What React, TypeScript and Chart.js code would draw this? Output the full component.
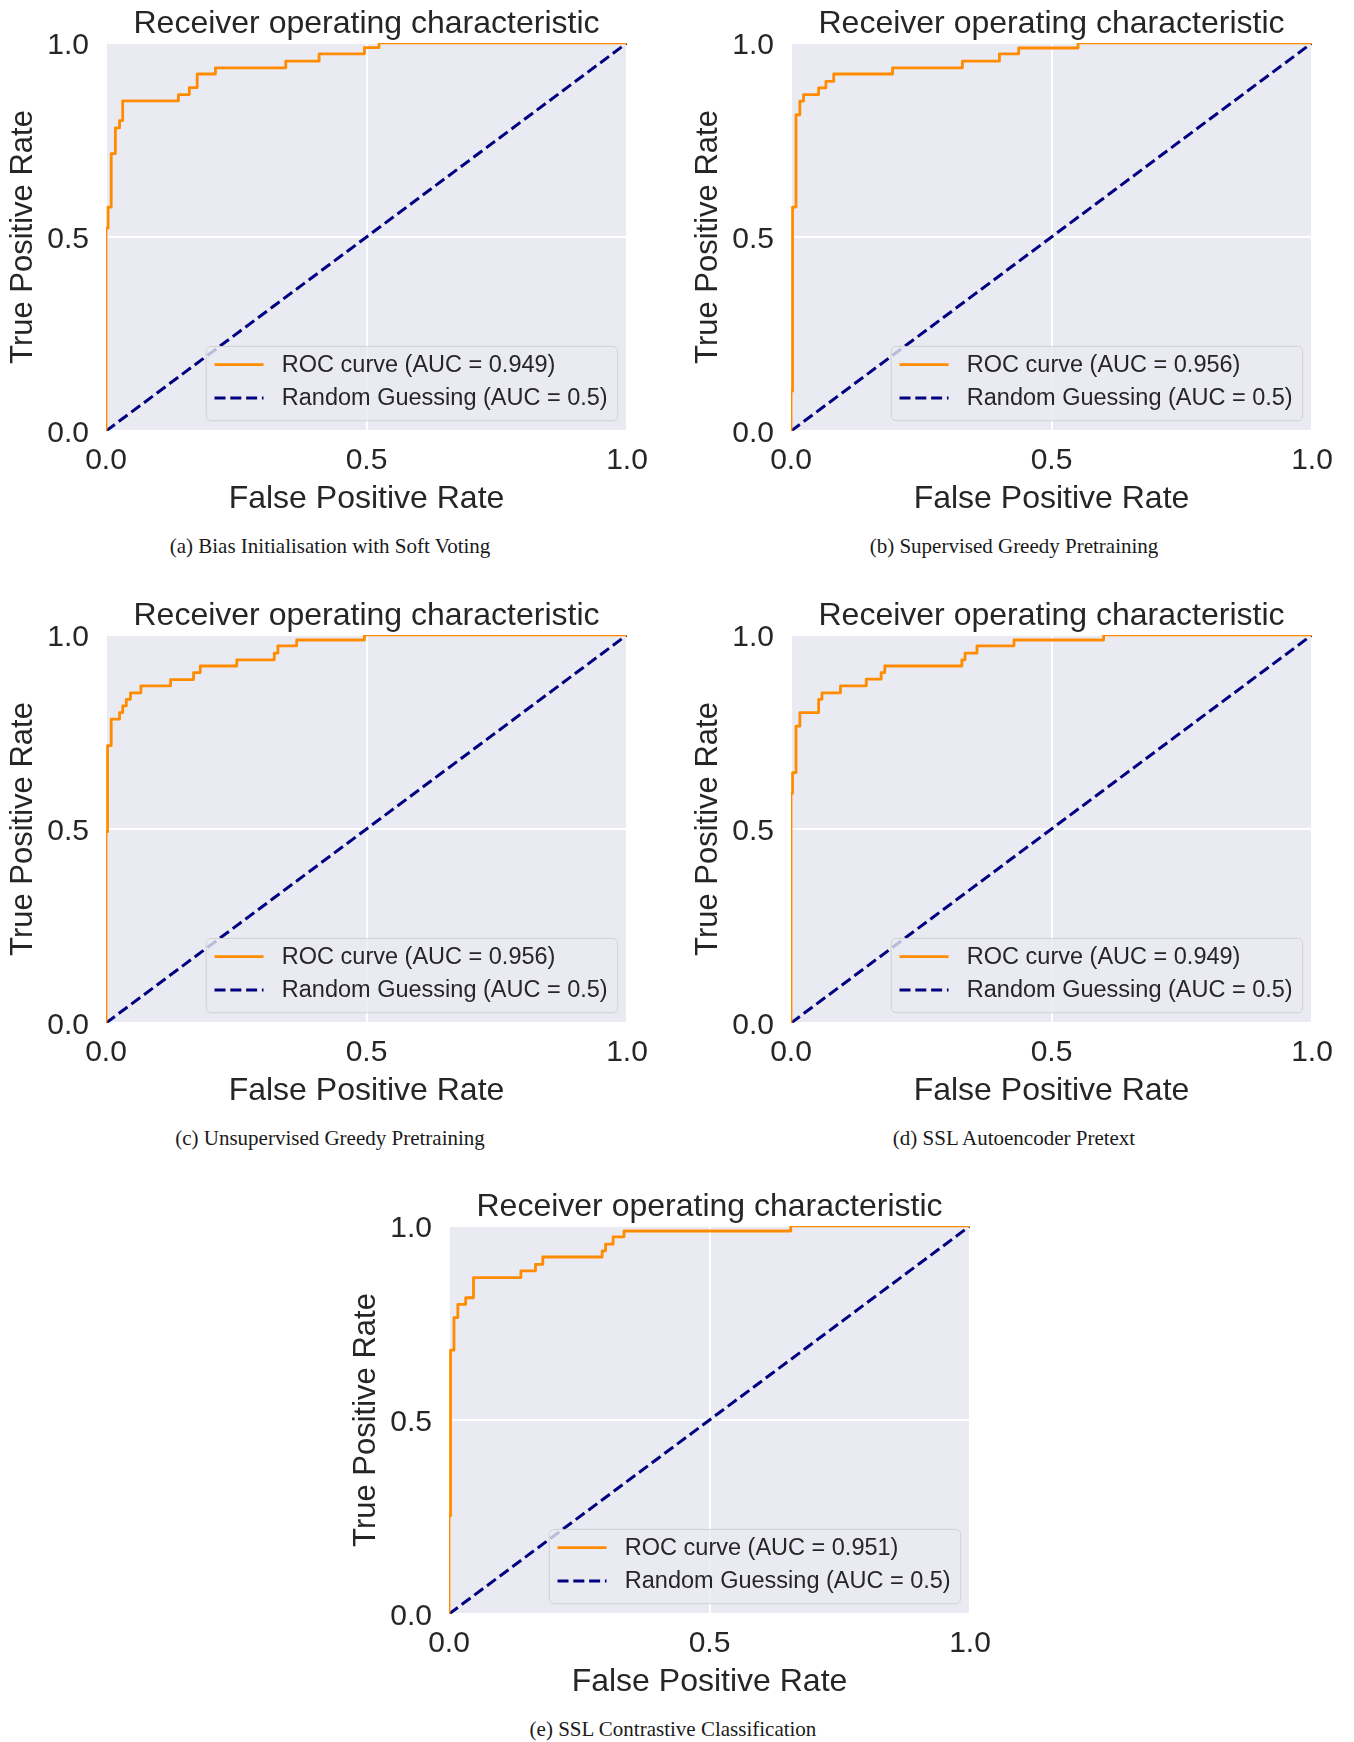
import React, { useEffect, useRef } from "react";
import { Chart, registerables } from "chart.js";

Chart.register(...registerables);

// ---------- text ----------
const TITLE = "Receiver operating characteristic";
const X_LABEL = "False Positive Rate";
const Y_LABEL = "True Positive Rate";
const TICK_VALUES = [0, 0.5, 1];
const TICK_LABELS = ["0.0", "0.5", "1.0"];
const GUESS_LABEL = "Random Guessing (AUC = 0.5)";
const GUESS_FPR = [0, 1];
const GUESS_TPR = [0, 1];

// ---------- ROC data: at each FPR the curve climbs to the matching TPR ----------
const FPR_A = [0, 0.004, 0.010, 0.018, 0.026, 0.032, 0.139, 0.160, 0.175, 0.210, 0.345, 0.409, 0.496, 0.524];
const TPR_A = [0.523, 0.577, 0.715, 0.781, 0.800, 0.851, 0.867, 0.885, 0.920, 0.936, 0.953, 0.972, 0.988, 1.0];
const AUC_A = "0.949";
const CAPTION_A = "(a) Bias Initialisation with Soft Voting";

const FPR_B = [0, 0.003, 0.0096, 0.017, 0.024, 0.053, 0.067, 0.082, 0.195, 0.329, 0.400, 0.437, 0.551];
const TPR_B = [0.103, 0.577, 0.815, 0.850, 0.867, 0.884, 0.901, 0.920, 0.936, 0.953, 0.972, 0.987, 1.0];
const AUC_B = "0.956";
const CAPTION_B = "(b) Supervised Greedy Pretraining";

const FPR_C = [0, 0.003, 0.010, 0.026, 0.032, 0.039, 0.047, 0.067, 0.124, 0.168, 0.181, 0.251, 0.323, 0.330, 0.366, 0.496];
const TPR_C = [0.493, 0.715, 0.783, 0.800, 0.817, 0.834, 0.851, 0.869, 0.885, 0.903, 0.920, 0.936, 0.953, 0.972, 0.987, 1.0];
const AUC_C = "0.956";
const CAPTION_C = "(c) Unsupervised Greedy Pretraining";

const FPR_D = [0, 0.003, 0.0096, 0.017, 0.053, 0.0595, 0.095, 0.1445, 0.173, 0.180, 0.328, 0.334, 0.357, 0.428, 0.600];
const TPR_D = [0.592, 0.645, 0.765, 0.800, 0.834, 0.851, 0.869, 0.886, 0.903, 0.920, 0.936, 0.953, 0.972, 0.987, 1.0];
const AUC_D = "0.949";
const CAPTION_D = "(d) SSL Autoencoder Pretext";

const FPR_E = [0, 0.003, 0.0096, 0.017, 0.032, 0.047, 0.138, 0.166, 0.180, 0.294, 0.3005, 0.315, 0.336, 0.656];
const TPR_E = [0.253, 0.680, 0.764, 0.798, 0.815, 0.867, 0.884, 0.901, 0.920, 0.936, 0.953, 0.972, 0.987, 1.0];
const AUC_E = "0.951";
const CAPTION_E = "(e) SSL Contrastive Classification";

// ---------- style / layout ----------
const SANS = "'Liberation Sans', Arial, Helvetica, sans-serif";
const SERIF = "'Liberation Serif', 'Times New Roman', Times, serif";
const TEXT = "#262626";
const AXES_BG = "#EAEAF2";
const ORANGE = "#FF8C00";
const NAVY = "#000080";
const CANVAS_W = 680;
const CANVAS_H = 532;

const PANELS = [
  { fpr: FPR_A, tpr: TPR_A, auc: AUC_A, caption: CAPTION_A, left: 0, top: 0, capX: 330, capY: 545.5 },
  { fpr: FPR_B, tpr: TPR_B, auc: AUC_B, caption: CAPTION_B, left: 685, top: 0, capX: 1014, capY: 545.5 },
  { fpr: FPR_C, tpr: TPR_C, auc: AUC_C, caption: CAPTION_C, left: 0, top: 592, capX: 330, capY: 1137.5 },
  { fpr: FPR_D, tpr: TPR_D, auc: AUC_D, caption: CAPTION_D, left: 685, top: 592, capX: 1014, capY: 1137.5 },
  { fpr: FPR_E, tpr: TPR_E, auc: AUC_E, caption: CAPTION_E, left: 343, top: 1183, capX: 673, capY: 1728.5 },
];

function rocPoints(fpr: number[], tpr: number[]) {
  const pts: { x: number; y: number }[] = [{ x: 0, y: 0 }];
  let prevY = 0;
  for (let i = 0; i < fpr.length; i++) {
    pts.push({ x: fpr[i], y: prevY });
    pts.push({ x: fpr[i], y: tpr[i] });
    prevY = tpr[i];
  }
  pts.push({ x: 1, y: prevY });
  return pts;
}

const bgPlugin = {
  id: "axesBg",
  beforeDraw(chart: any) {
    const { ctx, chartArea: a } = chart;
    ctx.save();
    ctx.fillStyle = AXES_BG;
    ctx.fillRect(a.left, a.top, a.right - a.left, a.bottom - a.top);
    ctx.restore();
  },
};

const legendPlugin = {
  id: "rocLegend",
  afterDatasetsDraw(chart: any) {
    const { ctx, chartArea } = chart;
    const ds = chart.data.datasets;
    ctx.save();
    ctx.font = `23.5px ${SANS}`;
    const textW = Math.max(...ds.map((d: any) => ctx.measureText(d.label).width));
    const padL = 8.3, handleLen = 49, gap = 18.3, padR = 10;
    const w = padL + handleLen + gap + textW + padR;
    const h = 74.3;
    const right = chartArea.right - 9.3;
    const bottom = chartArea.bottom - 10.3;
    const left = right - w;
    const top = bottom - h;
    const r = 5;
    ctx.beginPath();
    ctx.moveTo(left + r, top);
    ctx.lineTo(right - r, top);
    ctx.arcTo(right, top, right, top + r, r);
    ctx.lineTo(right, bottom - r);
    ctx.arcTo(right, bottom, right - r, bottom, r);
    ctx.lineTo(left + r, bottom);
    ctx.arcTo(left, bottom, left, bottom - r, r);
    ctx.lineTo(left, top + r);
    ctx.arcTo(left, top, left + r, top, r);
    ctx.closePath();
    ctx.fillStyle = "rgba(234,234,242,0.8)";
    ctx.fill();
    ctx.strokeStyle = "rgba(204,204,204,0.8)";
    ctx.lineWidth = 1;
    ctx.stroke();
    ds.forEach((d: any, i: number) => {
      const y = top + 18.3 + i * 33.3;
      ctx.beginPath();
      ctx.setLineDash(d.borderDash || []);
      ctx.strokeStyle = d.borderColor;
      ctx.lineWidth = d.borderWidth;
      ctx.moveTo(left + padL, y);
      ctx.lineTo(left + padL + handleLen, y);
      ctx.stroke();
      ctx.setLineDash([]);
      ctx.fillStyle = TEXT;
      ctx.textBaseline = "middle";
      ctx.textAlign = "left";
      ctx.fillText(d.label, left + padL + handleLen + gap, y + 1);
    });
    ctx.restore();
  },
};

function axisTicks(scale: any) {
  scale.ticks = TICK_VALUES.map((v) => ({ value: v }));
}

function RocPanel(props: { fpr: number[]; tpr: number[]; auc: string; left: number; top: number }) {
  const ref = useRef<HTMLCanvasElement | null>(null);
  useEffect(() => {
    if (!ref.current) return;
    const chart = new Chart(ref.current, {
      type: "line",
      data: {
        datasets: [
          {
            label: `ROC curve (AUC = ${props.auc})`,
            data: rocPoints(props.fpr, props.tpr),
            borderColor: ORANGE,
            backgroundColor: ORANGE,
            borderWidth: 2.8,
            borderJoinStyle: "round",
            pointRadius: 0,
            tension: 0,
            fill: false,
            clip: 0,
          },
          {
            label: GUESS_LABEL,
            data: GUESS_FPR.map((x, i) => ({ x, y: GUESS_TPR[i] })),
            borderColor: NAVY,
            backgroundColor: NAVY,
            borderWidth: 3,
            borderDash: [11, 4.8],
            pointRadius: 0,
            tension: 0,
            fill: false,
            clip: 0,
          },
        ],
      } as any,
      options: {
        responsive: false,
        animation: false,
        devicePixelRatio: 1,
        layout: { padding: { left: 0, right: 53, top: 0, bottom: 0 } },
        plugins: {
          legend: { display: false },
          tooltip: { enabled: false },
          title: {
            display: true,
            text: TITLE,
            fullSize: false,
            color: TEXT,
            font: { family: SANS, size: 32, weight: "normal", lineHeight: 1.18 },
            padding: { top: 5.2, bottom: 0 },
          },
        },
        scales: {
          x: {
            type: "linear",
            min: 0,
            max: 1,
            afterBuildTicks: axisTicks,
            afterFit: (s: any) => {
              s.height = 101;
            },
            ticks: {
              callback: (_v: any, i: number) => TICK_LABELS[i],
              font: { family: SANS, size: 30 },
              color: TEXT,
              padding: 12,
              maxRotation: 0,
              autoSkip: false,
            },
            grid: { color: "#ffffff", lineWidth: 2, drawTicks: false },
            border: { display: false },
            title: {
              display: true,
              text: X_LABEL,
              color: TEXT,
              font: { family: SANS, size: 32, lineHeight: 1.2 },
              padding: { top: 0, bottom: 13.9 },
            },
          },
          y: {
            type: "linear",
            min: 0,
            max: 1,
            afterBuildTicks: axisTicks,
            afterFit: (s: any) => {
              s.width = 106;
            },
            ticks: {
              callback: (_v: any, i: number) => TICK_LABELS[i],
              font: { family: SANS, size: 30 },
              color: TEXT,
              padding: 17,
              labelOffset: 2.5,
              autoSkip: false,
            },
            grid: { color: "#ffffff", lineWidth: 2, drawTicks: false },
            border: { display: false },
            title: {
              display: true,
              text: Y_LABEL,
              color: TEXT,
              font: { family: SANS, size: 31, lineHeight: 1.2 },
              padding: { top: 4.4, bottom: 0 },
            },
          },
        },
      } as any,
      plugins: [bgPlugin, legendPlugin],
    });
    return () => chart.destroy();
  }, []);
  return (
    <canvas
      ref={ref}
      width={CANVAS_W}
      height={CANVAS_H}
      style={{ position: "absolute", left: props.left, top: props.top, width: CANVAS_W, height: CANVAS_H }}
    />
  );
}

export default function App() {
  return (
    <div style={{ position: "absolute", left: 0, top: 0, width: 1354, height: 1742, background: "#ffffff", overflow: "hidden" }}>
      {PANELS.map((p, i) => (
        <React.Fragment key={i}>
          <RocPanel fpr={p.fpr} tpr={p.tpr} auc={p.auc} left={p.left} top={p.top} />
          <div
            style={{
              position: "absolute",
              left: p.capX - 300,
              top: p.capY - 12,
              width: 600,
              height: 24,
              lineHeight: "24px",
              textAlign: "center",
              fontFamily: SERIF,
              fontSize: 21,
              color: "#1a1a1a",
              whiteSpace: "nowrap",
            }}
          >
            {p.caption}
          </div>
        </React.Fragment>
      ))}
    </div>
  );
}
